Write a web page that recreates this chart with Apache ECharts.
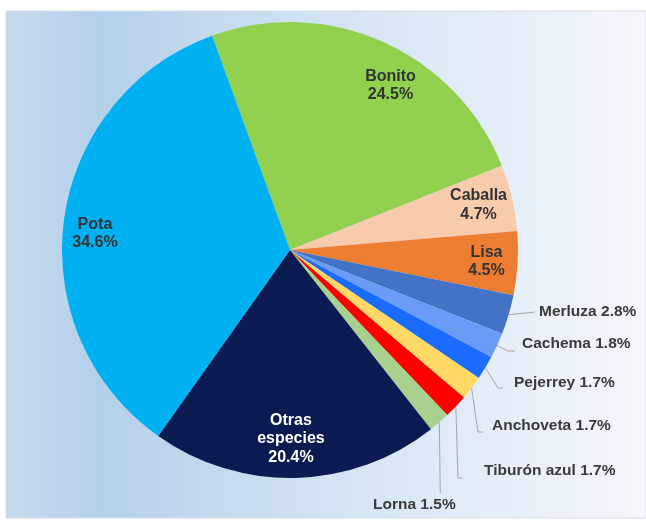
<!DOCTYPE html>
<html>
<head>
<meta charset="utf-8">
<script src="https://cdn.jsdelivr.net/npm/echarts@6/dist/echarts.min.js"></script>
<style>
html,body{margin:0;padding:0;background:#fff;}
#chart{width:646px;height:521px;}
</style>
</head>
<body>
<div id="chart"></div>
<script>
var categories = ['Bonito','Caballa','Lisa','Merluza','Cachema','Pejerrey','Anchoveta','Tiburón azul','Lorna','Otras especies','Pota'];
var values = [24.5, 4.7, 4.5, 2.8, 1.8, 1.7, 1.7, 1.7, 1.5, 20.4, 34.6];
var colors = ['#92D050','#F8CBAD','#ED7D31','#4472C4','#6B9BF7','#1A6CFF','#FFD966','#FF0000','#A9D18E','#0B1A50','#00B0F0'];
var insideNames = ['Bonito','Caballa','Lisa','Otras especies','Pota'];

var chart = echarts.init(document.getElementById('chart'), null, {renderer:'canvas'});

var cx = 290, cy = 250, R = 228;

// label placement for the small outside labels (left-aligned x, middle y)
// and the guide-line elbow relative to the label: [dx, dy, horizontal tail length]
var outsidePos = {
  'Merluza':      {pos: [539, 312], elbow: null, end: [-4, 0]},
  'Cachema':      {pos: [522, 344], elbow: [-14, 7], end: [-7, 7]},
  'Pejerrey':     {pos: [514, 383], elbow: [-16, 5], end: [-11, 5]},
  'Anchoveta':    {pos: [492, 426], elbow: [-14, 6], end: [-9, 6]},
  'Tiburón azul': {pos: [484, 471], elbow: [-26, 7], end: [-21, 7]},
  'Lorna':        {pos: [373, 505], elbow: null, end: 'vertical'}
};
var insideOffset = {
  'Bonito': [20, 15],
  'Caballa': [-3, 0],
  'Pota': [0, 10],
  'Otras especies': [-4, -8]
};

var font = '"Liberation Sans", Arial, sans-serif';

var mainData = categories.map(function(n, i){
  var isIn = insideNames.indexOf(n) >= 0;
  return {
    name: n, value: values[i],
    itemStyle: {color: colors[i]},
    label: {show: !isIn},
    labelLine: {show: !isIn}
  };
});

var overlayData = categories.map(function(n, i){
  var isIn = insideNames.indexOf(n) >= 0;
  var item = {
    name: n, value: values[i],
    itemStyle: {color: 'rgba(0,0,0,0)'},
    label: {show: isIn}
  };
  if (n === 'Otras especies') {
    item.label.color = '#ffffff';
    item.label.formatter = 'Otras\nespecies\n{c}%';
  }
  if (insideOffset[n]) item.label.offset = insideOffset[n];
  return item;
});

chart.setOption({
  animation: false,
  graphic: [{
    type: 'rect', z: -10, silent: true,
    shape: {x: 6, y: 11, width: 640, height: 507},
    style: {
      fill: new echarts.graphic.LinearGradient(0, 0, 1, 0, [
        {offset: 0, color: '#C6DAEE'},
        {offset: 0.15, color: '#B4D0EA'},
        {offset: 0.5, color: '#D3E3F3'},
        {offset: 1, color: '#F4F7FC'}
      ]),
      stroke: '#D6DEE8', lineWidth: 1
    }
  }],
  series: [{
    type: 'pie',
    center: [cx, cy],
    radius: [0, R],
    startAngle: 110,
    clockwise: true,
    avoidLabelOverlap: false,
    data: mainData,
    itemStyle: {borderWidth: 0},
    label: {
      position: 'outside',
      formatter: '{b} {c}%',
      fontFamily: font, fontWeight: 'bold', fontSize: 15.5, color: '#3A3A3A'
    },
    labelLine: {
      show: true, length: 10, length2: 10,
      lineStyle: {color: '#A6A6A6', width: 1}
    },
    labelLayout: function(params){
      var name = categories[params.dataIndex];
      var cfg = outsidePos[name];
      if (!cfg) return {};
      var p = cfg.pos;
      var res = {x: p[0], y: p[1], align: 'left', verticalAlign: 'middle'};
      var pts = params.labelLinePoints;
      if (pts && pts.length) {
        var s = pts[0];
        var line = [[s[0], s[1]]];
        if (cfg.end === 'vertical') {
          line.push([s[0] + 1, p[1] - 12]);
        } else {
          if (cfg.elbow) line.push([p[0] + cfg.elbow[0], p[1] + cfg.elbow[1]]);
          line.push([p[0] + cfg.end[0], p[1] + cfg.end[1]]);
        }
        res.labelLinePoints = line;
      }
      return res;
    }
  }, {
    type: 'pie',
    silent: true,
    center: [cx, cy],
    radius: [R * 0.7, R],
    startAngle: 110,
    clockwise: true,
    avoidLabelOverlap: false,
    data: overlayData,
    label: {
      position: 'inside',
      formatter: '{b}\n{c}%',
      fontFamily: font, fontWeight: 'bold', fontSize: 16, lineHeight: 18.5,
      color: '#333333', align: 'center'
    },
    labelLine: {show: false}
  }]
});
</script>
</body>
</html>
